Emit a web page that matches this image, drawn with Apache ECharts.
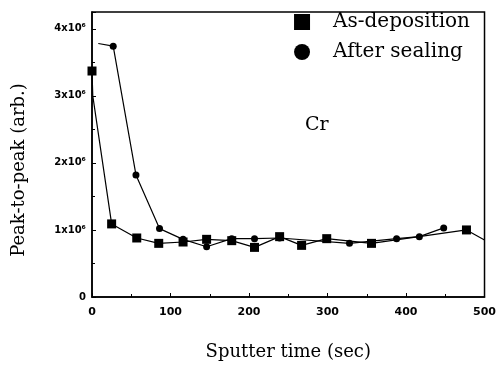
<!DOCTYPE html>
<html>
<head>
<meta charset="utf-8">
<script src="https://cdn.jsdelivr.net/npm/echarts@6/dist/echarts.min.js"></script>
<style>
  html, body { margin: 0; padding: 0; background: #fff; }
  #main { width: 499px; height: 366px; }
</style>
</head>
<body>
<div id="main"></div>
<script>
// Sputter time (sec) and peak-to-peak values (x10^6)
const asDepTime = [0, 1, 25, 57, 85, 116, 146, 178, 207, 239, 267, 299, 356, 477, 500];
const asDepVals = [3.37, 3.0, 1.09, 0.88, 0.80, 0.82, 0.86, 0.84, 0.74, 0.90, 0.77, 0.87, 0.80, 1.0, 0.85];
const sealTime = [8, 27, 56, 86, 116, 146, 178, 207, 239, 328, 388, 417, 448];
const sealVals = [3.78, 3.74, 1.82, 1.02, 0.86, 0.75, 0.87, 0.87, 0.88, 0.80, 0.87, 0.90, 1.03];
const yTickLabels = ['0', '1x10⁶', '2x10⁶', '3x10⁶', '4x10⁶'];

let myChart = echarts.init(document.getElementById('main'));

// Build [x, y] pairs; hide markers for points that have none in the picture
function pairs(xs, ys, noSymbol) {
    return xs.map((x, i) => {
        let item = { value: [x, ys[i]] };
        if (noSymbol.includes(i)) item.symbol = 'none';
        return item;
    });
}

const serif = 'DejaVu Serif';

let option = {
    animation: false,
    backgroundColor: '#fff',
    grid: {
        left: 92,
        right: 14,
        top: 12,
        bottom: 62,
        show: true,
        borderColor: '#000',
        borderWidth: 1.5
    },
    legend: {
        orient: 'vertical',
        right: 24,
        top: 6,
        itemWidth: 16,
        itemHeight: 16,
        itemGap: 8,
        textStyle: {
            fontFamily: serif, fontSize: 20, color: '#000',
            lineHeight: 22, padding: [0, 0, 0, 18]
        },
        data: [
            { name: 'As-deposition', icon: 'rect' },
            { name: 'After sealing', icon: 'circle' }
        ]
    },
    xAxis: {
        type: 'value',
        min: 0,
        max: 500,
        interval: 100,
        name: 'Sputter time (sec)',
        nameLocation: 'middle',
        nameGap: 46,
        nameTextStyle: { fontFamily: serif, fontSize: 18, color: '#000' },
        axisLine: { lineStyle: { color: '#000', width: 1.5 } },
        axisTick: { inside: true, length: 4, lineStyle: { color: '#000' } },
        minorTick: { show: true, splitNumber: 2, length: 3, lineStyle: { color: '#000' } },
        splitLine: { show: false },
        axisLabel: { color: '#000', fontFamily: 'DejaVu Sans', fontWeight: 'bold', fontSize: 11, margin: 10 }
    },
    yAxis: {
        type: 'value',
        min: 0,
        max: 4.25,
        interval: 1,
        axisLine: { show: true, lineStyle: { color: '#000', width: 1.5 } },
        axisTick: { inside: true, length: 4, lineStyle: { color: '#000' } },
        minorTick: { show: true, splitNumber: 2, length: 3, lineStyle: { color: '#000' } },
        splitLine: { show: false },
        axisLabel: {
            color: '#000',
            fontFamily: 'DejaVu Sans',
            fontWeight: 'bold',
            fontSize: 10,
            margin: 6,
            showMaxLabel: false,
            formatter: (v) => Number.isInteger(v) ? yTickLabels[v] : ''
        }
    },
    graphic: [
        {
            type: 'text',
            x: 19,
            y: 170,
            rotation: Math.PI / 2,
            style: {
                text: 'Peak-to-peak (arb.)', fontFamily: serif, fontSize: 18,
                fill: '#000', align: 'center', verticalAlign: 'middle'
            }
        },
        {
            type: 'text',
            left: 305,
            top: 116,
            style: { text: 'Cr', fontFamily: serif, fontSize: 19, fill: '#000' }
        }
    ],
    series: [
        {
            name: 'As-deposition',
            type: 'line',
            symbol: 'rect',
            symbolSize: 9,
            color: '#000',
            lineStyle: { color: '#000', width: 1.2 },
            data: pairs(asDepTime, asDepVals, [1, 14])
        },
        {
            name: 'After sealing',
            type: 'line',
            symbol: 'circle',
            symbolSize: 7,
            color: '#000',
            lineStyle: { color: '#000', width: 1.2 },
            data: pairs(sealTime, sealVals, [0])
        }
    ]
};

option && myChart.setOption(option);
</script>
</body>
</html>
